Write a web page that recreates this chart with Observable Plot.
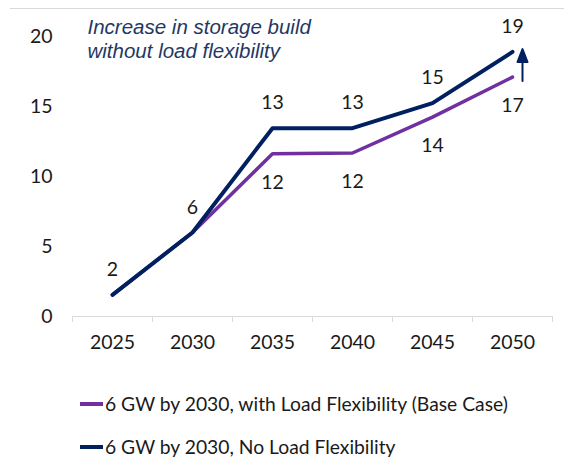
<!DOCTYPE html>
<html>
<head>
<meta charset="utf-8">
<script src="https://cdn.jsdelivr.net/npm/d3@7"></script>
<script src="https://cdn.jsdelivr.net/npm/@observablehq/plot@0.6"></script>
<style>
  html, body { margin: 0; padding: 0; background: #fff; }
  #wrap { position: relative; width: 564px; height: 459px; overflow: hidden; font-family: Lato, "Open Sans", sans-serif; }
  #topline { position: absolute; top: 8px; left: 10px; right: 0; border-top: 1px solid #d9d9d9; }
  #chart svg { display: block; }
  .legend-row { height: 43px; line-height: 43px; padding-left: 80px; font-size: 19.3px; color: #1a1a1a; display: flex; align-items: center; white-space: nowrap; }
  .swatch { width: 23px; height: 4px; margin-right: 2px; display: inline-block; }
</style>
</head>
<body>
<div id="wrap">
  <div id="chart"></div>
  <div id="legend"></div>
  <div id="topline"></div>
</div>
<script>
const years = [2025, 2030, 2035, 2040, 2045, 2050];
const withFlex = [1.55, 6.0, 11.62, 11.68, 14.24, 17.1];
const noFlex = [1.55, 6.0, 13.45, 13.45, 15.24, 18.9];
const seriesNames = ["6 GW by 2030, with Load Flexibility (Base Case)", "6 GW by 2030, No Load Flexibility"];
const seriesColors = ["#7030A0", "#002060"];
const yTicks = [0, 5, 10, 15, 20];
const annotation = "Increase in storage build\nwithout load flexibility";

const purpleRows = years.map((year, i) => ({year, value: withFlex[i], series: seriesNames[0]}));
const navyRows = years.map((year, i) => ({year, value: noFlex[i], series: seriesNames[1]}));
const purpleLabels = purpleRows.filter(d => d.year >= 2035);
const step = years[1] - years[0];
const boundaries = years.map(y => y - step / 2).concat([years[years.length - 1] + step / 2]);
const last = years.length - 1;
const fs = 19.5;

const chart = Plot.plot({
  width: 564,
  height: 382,
  marginLeft: 72,
  marginRight: 12,
  marginTop: 36,
  marginBottom: 66,
  style: {fontFamily: "Lato, 'Open Sans', sans-serif", fontSize: fs + "px", color: "#1a1a1a", background: "white"},
  x: {domain: [boundaries[0], boundaries[boundaries.length - 1]], label: null},
  y: {domain: [0, 20], label: null},
  marks: [
    Plot.ruleY([0], {stroke: "#d9d9d9", strokeWidth: 1}),
    Plot.axisX(boundaries, {tickSize: 6, stroke: "#d9d9d9", tickFormat: () => "", label: null}),
    Plot.axisX(years, {tickSize: 0, tickPadding: 19, tickFormat: d => String(d), fontSize: fs, fill: "#1a1a1a", label: null}),
    Plot.axisY(yTicks, {tickSize: 0, tickPadding: 20, fontSize: fs, fill: "#1a1a1a", label: null}),
    Plot.line(purpleRows, {x: "year", y: "value", stroke: seriesColors[0], strokeWidth: 3.5}),
    Plot.line(navyRows, {x: "year", y: "value", stroke: seriesColors[1], strokeWidth: 4}),
    Plot.text(navyRows, {x: "year", y: "value", text: d => d3.format(".0f")(d.value), dy: -25, fontSize: fs, fill: "#1a1a1a"}),
    Plot.text(purpleLabels, {x: "year", y: "value", text: d => d3.format(".0f")(d.value), dy: 29, fontSize: fs, fill: "#1a1a1a"}),
    Plot.vector([{x: years[last], y: withFlex[last]}], {
      x: "x", y: "y", anchor: "start", length: 32, rotate: 0, dx: 10, dy: 4,
      stroke: seriesColors[1], fill: seriesColors[1], strokeWidth: 2,
      shape: {
        draw(context, l) {
          context.moveTo(0, 0);
          context.lineTo(0, -l + 12);
          context.moveTo(-5, -l + 13);
          context.lineTo(0, -l);
          context.lineTo(5, -l + 13);
          context.closePath();
        }
      }
    }),
    Plot.text([annotation], {
      frameAnchor: "top-left", lineAnchor: "top", textAnchor: "start", dx: 15, dy: -19,
      fontSize: 20.5, fontStyle: "italic", fontFamily: "'Liberation Sans', Arial, sans-serif",
      fill: "#1F3864", lineHeight: 1.15
    })
  ]
});
document.getElementById("chart").appendChild(chart);

const legend = document.getElementById("legend");
seriesNames.forEach((name, i) => {
  const row = document.createElement("div");
  row.className = "legend-row";
  const sw = document.createElement("span");
  sw.className = "swatch";
  sw.style.background = seriesColors[i];
  const label = document.createElement("span");
  label.textContent = name;
  row.appendChild(sw);
  row.appendChild(label);
  legend.appendChild(row);
});
</script>
</body>
</html>
